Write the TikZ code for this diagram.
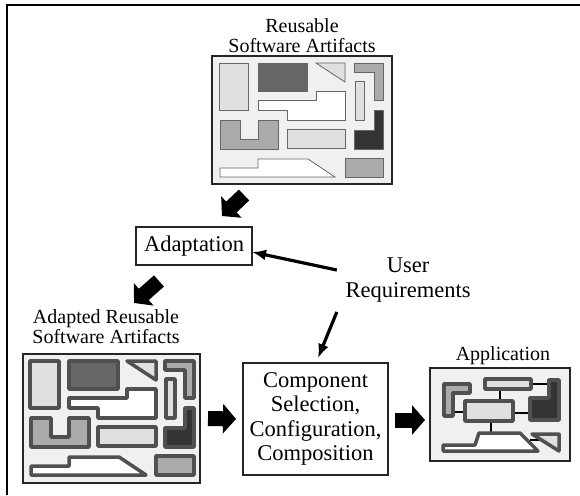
\documentclass[tikz,border=0pt]{standalone}
\usepackage{fontspec}
\setmainfont{Liberation Serif}
\usetikzlibrary{arrows.meta,calc}

\definecolor{panel}{HTML}{F0F0F0}
\definecolor{pale}{HTML}{E0E0E0}
\definecolor{slate}{HTML}{666666}
\definecolor{midgray}{HTML}{ABABAB}
\definecolor{deep}{HTML}{333333}
\definecolor{rim}{HTML}{505050}

\newcommand\lblfont{\fontsize{20}{20}\selectfont}
\newcommand\boxfont{\fontsize{22.5}{24.5}\selectfont}

% the set of software pieces shown inside an artifact panel
\newcommand\artifactset{%
  \path[outl,fill=pale] (7,7) rectangle (36,54);
  \path[outl,fill=slate] (46,7) rectangle (95,35);
  \path[outl,fill=pale] (104,7) -- (133,7) -- (133,26) -- cycle;
  \path[outl,fill=midgray] (142,7) -- (171,7) -- (171,44) -- (162,44) -- (162,16) -- (142,16) -- cycle;
  \path[outl,fill=pale] (143,25) rectangle (152,64);
  \path[outl,fill=white] (104,35) -- (133,35) -- (133,64) -- (75,64) -- (75,54) -- (46,54) -- (46,44) -- (104,44) -- cycle;
  \path[outl,fill=midgray] (8,64) -- (28,64) -- (28,83) -- (46,83) -- (46,64) -- (66,64) -- (66,93) -- (8,93) -- cycle;
  \path[outl,fill=pale] (75,73) rectangle (133,92);
  \path[outl,fill=deep] (162,54) -- (171,54) -- (171,93) -- (142,93) -- (142,74) -- (162,74) -- cycle;
  \path[outl,fill=white] (8,112) -- (46,112) -- (46,103) -- (96,103) -- (123,121) -- (8,121) -- cycle;
  \path[outl,fill=midgray] (133,102) rectangle (171,121);
}

\begin{document}
\begin{tikzpicture}[x=1pt,y=-1pt,
  artbox/.style={draw=black!85, line width=1.2pt, fill=panel, inner sep=0pt, outer sep=0pt},
  stage/.style={draw=black!85, line width=1.2pt, fill=white, inner sep=0pt, outer sep=0pt, align=center, font=\boxfont},
  caption/.style={inner sep=0pt, align=center, font=\lblfont},
  block/.style={line width=15pt, -{Triangle[width=29pt,length=13pt]}},
  feed/.style={line width=3.2pt, -{Latex[length=14pt,width=11pt]}},
  thinrim/.style={draw=slate, line width=0.8pt},
  thickrim/.style={draw=rim, line width=3.5pt, line join=round},
  wire/.style={draw=black, line width=1.6pt}]

\useasboundingbox (0,0) rectangle (580,495);

% outer frame
\draw[line width=1.5pt] (7,495) -- (7,5) -- (580,5);

% panels and process boxes
\node[artbox, minimum width=180pt, minimum height=128pt] (rbox) at (302,120) {};
\node[artbox, minimum width=177pt, minimum height=129pt] (adbox) at (111.5,418.5) {};
\node[artbox, minimum width=140pt, minimum height=93pt] (appbox) at (500,414.5) {};
\node[stage, minimum width=116pt, minimum height=38pt] (adapt) at (194,246) {Adaptation};
\node[stage, minimum width=145pt, minimum height=112pt] (comp) at (315.5,419) {Component\\Selection,\\Configuration,\\Composition};

% captions
\node[caption] (rlbl) at (302,35.2) {Reusable\\Software Artifacts};
\node[caption] (adlbl) at (106,326.2) {Adapted Reusable\\Software Artifacts};
\node[caption] (applbl) at (503,355.3) {Application};
\node[inner sep=0pt, align=center, font=\fontsize{22.5}{25}\selectfont] (ur) at (408,280.5) {User\\Requirements};

% panel contents
\begin{scope}[shift={(rbox.north west)}, outl/.style={thinrim}]
  \artifactset
\end{scope}
\begin{scope}[shift={(adbox.north west)}, outl/.style={thickrim}]
  \artifactset
\end{scope}
\begin{scope}[shift={(appbox.north west)}, outl/.style={thickrim}]
  \draw[wire] (70,21) -- (70,33);
  \draw[wire] (101,16) -- (119,16);
  \draw[wire] (23,44) -- (35,44);
  \draw[wire] (83,45) -- (100,45);
  \draw[wire] (61,53) -- (61,65);
  \draw[wire] (100,72) -- (112,72);
  \path[outl,fill=midgray] (14,16) -- (40,16) -- (40,25) -- (23,25) -- (23,48) -- (14,48) -- cycle;
  \path[outl,fill=pale] (55,11) rectangle (101,21);
  \path[outl,fill=pale] (35,33) rectangle (83,53);
  \path[outl,fill=deep] (119,12) -- (129,12) -- (129,52) -- (100,52) -- (100,30) -- (119,30) -- cycle;
  \path[outl,fill=white] (13,77) -- (45,77) -- (49,65) -- (90,65) -- (108,83) -- (13,83) -- cycle;
  \path[outl,fill=pale] (102,66) -- (129,66) -- (129,83) -- cycle;
\end{scope}

% flow arrows
\draw[block] ($(rbox.south west)+(32,11)$) -- ($(rbox.south west)+(10,32)$);
\draw[block] ($(adapt.south west)+(23,16)$) -- ($(adapt.south west)+(-2,38)$);
\draw[block] ($(adbox.east)+(8,0)$) -- ($(comp.west)+(-7,0)$);
\draw[block] ($(comp.east)+(7,1)$) -- ($(comp.east -| appbox.west)+(-5,1)$);

% requirement arrows
\draw[feed] ([xshift=-8.5pt,yshift=10.5pt]ur.west) -- ([yshift=-6pt]adapt.east);
\draw[feed] ([xshift=-8.5pt,yshift=-9pt]ur.south west) -- ([xshift=2.5pt,yshift=5pt]comp.north);
\end{tikzpicture}
\end{document}
